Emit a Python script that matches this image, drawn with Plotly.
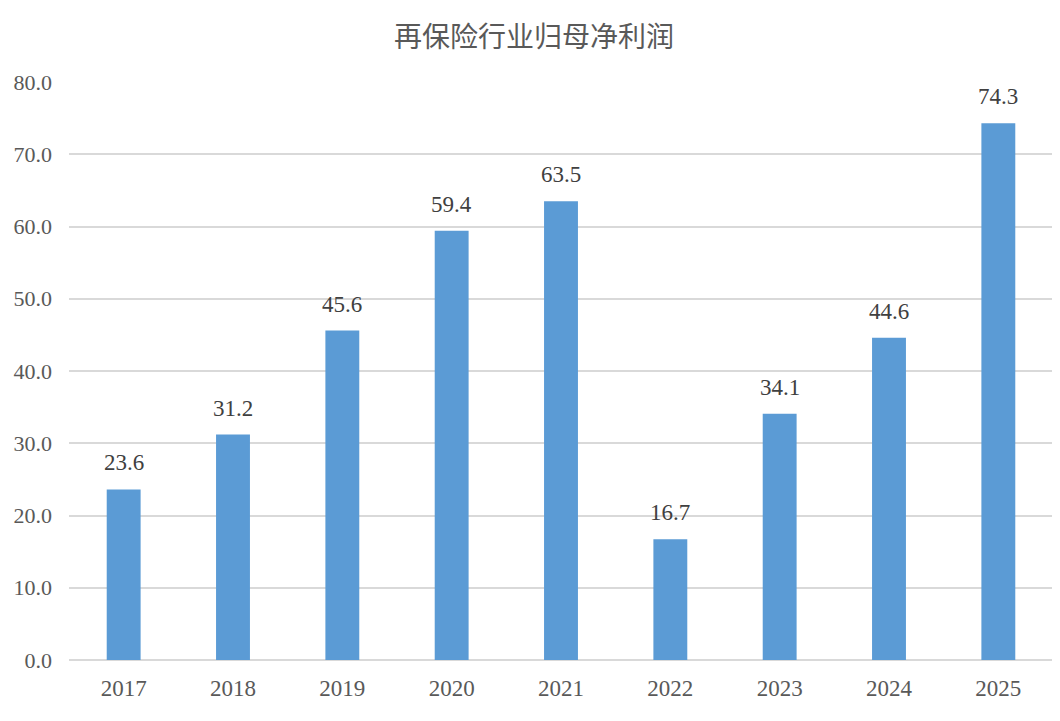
import plotly.graph_objects as go

years = ["2017", "2018", "2019", "2020", "2021", "2022", "2023", "2024", "2025"]
profit = [23.6, 31.2, 45.6, 59.4, 63.5, 16.7, 34.1, 44.6, 74.3]
y_ticks = [0, 10, 20, 30, 40, 50, 60, 70, 80]
title = "再保险行业归母净利润"

font_family = "Liberation Serif, Noto Sans CJK SC, serif"

fig = go.Figure(
    go.Bar(
        x=years,
        y=profit,
        marker=dict(color="#5B9BD5", line=dict(width=0)),
        width=0.31,
        hoverinfo="x+y",
    )
)

# data labels above bars (category index positions on the category axis)
for i, v in enumerate(profit):
    fig.add_annotation(
        x=i,
        y=v,
        xref="x",
        yref="y",
        text=f"{v:.1f}",
        showarrow=False,
        yanchor="bottom",
        yshift=12,
        font=dict(size=23, color="#404040", family=font_family),
    )

W, H = 1052, 713
fig.update_layout(
    width=W,
    height=H,
    margin=dict(l=61, r=7, t=74, b=61, autoexpand=False),
    paper_bgcolor="white",
    plot_bgcolor="white",
    showlegend=False,
    title=dict(
        text=title,
        x=0.5,
        xanchor="center",
        y=1 - 29 / H,
        yanchor="middle",
        font=dict(size=28, color="#595959", family="Noto Sans CJK SC, serif"),
    ),
    font=dict(family=font_family),
)

fig.update_xaxes(
    type="category",
    categoryorder="array",
    categoryarray=years,
    range=[-0.5, len(years) - 0.5],
    showgrid=False,
    showline=False,
    ticks="",
    automargin=False,
    tickfont=dict(size=23, color="#595959", family=font_family),
    ticklabelstandoff=12,
)
fig.update_yaxes(
    range=[0, 80],
    tickvals=y_ticks,
    ticktext=[f"{v:.1f}" for v in y_ticks],
    showgrid=True,
    gridcolor="#D9D9D9",
    gridwidth=1.5,
    zeroline=True,
    zerolinecolor="#D9D9D9",
    zerolinewidth=1.5,
    showline=False,
    ticks="",
    automargin=False,
    tickfont=dict(size=22, color="#595959", family=font_family),
    ticklabelstandoff=16,
)

fig.write_html("out.html")
